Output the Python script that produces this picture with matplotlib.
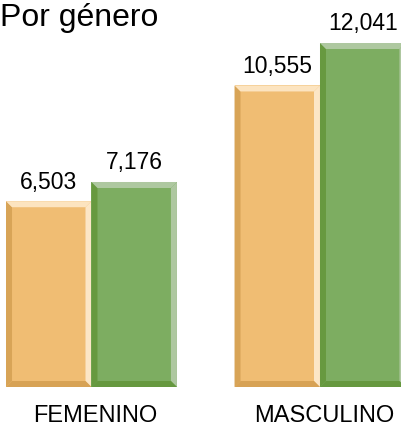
import matplotlib.pyplot as plt
from matplotlib.patches import Polygon

categorias = ['FEMENINO', 'MASCULINO']
serie_a = [6503, 10555]
serie_b = [7176, 12041]

plt.rcParams['font.family'] = ['Liberation Sans', 'DejaVu Sans']

fig = plt.figure(figsize=(4.02, 4.26), dpi=100)
ax = fig.add_axes([0, 0.0915, 1, 0.9085])
ax.set_xlim(-0.4004, 1.3589)
ax.set_ylim(0, 13546)
ax.axis('off')

w = 0.374
x = [0, 1]
colores = [
    # cara, izquierda, derecha, arriba, abajo
    ('#F0BD73', '#D8A457', '#FCE6C6', '#FCE4C0', '#D7A255'),
    ('#7DAD61', '#67993F', '#AEC7A0', '#AEC8A0', '#66983F'),
]

# bisel de ~6 px pasado a unidades de datos
bx = 6 / 228.5
by = 6 * 35.0

for serie, off, col in [(serie_a, -w / 2, colores[0]), (serie_b, w / 2, colores[1])]:
    bars = ax.bar([xi + off for xi in x], serie, width=w, color=col[0], linewidth=0)
    for b, v in zip(bars, serie):
        x0, x1 = b.get_x(), b.get_x() + b.get_width()
        y0, y1 = 0, b.get_height()
        ax.add_patch(Polygon([(x0, y0), (x0 + bx, y0 + by), (x0 + bx, y1 - by), (x0, y1)],
                             closed=True, color=col[1], lw=0))
        ax.add_patch(Polygon([(x1, y0), (x1 - bx, y0 + by), (x1 - bx, y1 - by), (x1, y1)],
                             closed=True, color=col[2], lw=0))
        ax.add_patch(Polygon([(x0, y1), (x0 + bx, y1 - by), (x1 - bx, y1 - by), (x1, y1)],
                             closed=True, color=col[3], lw=0))
        ax.add_patch(Polygon([(x0, y0), (x0 + bx, y0 + by), (x1 - bx, y0 + by), (x1, y0)],
                             closed=True, color=col[4], lw=0))
        ax.annotate(f'{v:,}', (b.get_x() + b.get_width() / 2, v), xytext=(0, 9),
                    textcoords='offset points', ha='center', va='baseline', fontsize=16.5)

for xi, c in zip(x, categorias):
    ax.annotate(c, (xi, 0), xytext=(3, -25.5), textcoords='offset points',
                ha='center', va='baseline', fontsize=17)

fig.text(0.0, 0.939, 'Por género', fontsize=23, ha='left', va='baseline')

plt.savefig('out.png', dpi=100)
